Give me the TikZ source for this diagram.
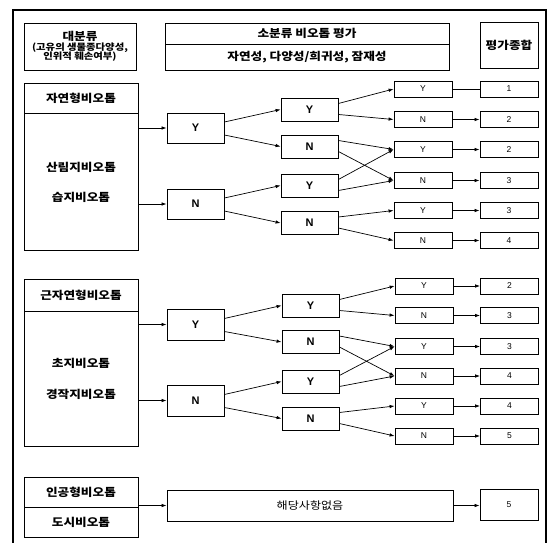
\documentclass[tikz,border=0pt]{standalone}
\usepackage{fontspec}
\setmainfont{Liberation Sans}
\newfontfamily\kr{Noto Sans CJK KR}[FakeStretch=1.15]
\usetikzlibrary{arrows.meta}
\begin{document}
\begin{tikzpicture}[x=1pt,y=-1pt,
  bx/.style={draw=black,line width=0.8pt,inner sep=0pt,fill=white},
  hd/.style={font=\kr\bfseries\fontsize{11}{12}\selectfont},
  bigt/.style={font=\kr\bfseries\fontsize{11}{12}\selectfont},
  yn/.style={bx,minimum width=57pt,font=\bfseries\fontsize{11}{12}\selectfont},
  sm/.style={bx,minimum width=58pt,minimum height=16pt,font=\fontsize{8.5}{9}\selectfont},
  arr/.style={line width=0.7pt,-{Latex[length=5pt,width=3.5pt]}},
  ln/.style={line width=0.7pt}]
\useasboundingbox (0,0) rectangle (549,543);
\draw[line width=1.3pt] (13,10) rectangle (546,560);
% header
\node[bx,minimum width=112pt,minimum height=47pt,align=center,hd] (h1) at (80,46.5)
  {대분류\\[-2pt]{\fontsize{9}{10}\selectfont (고유의 생물종다양성,}\\[-2.5pt]{\fontsize{9}{10}\selectfont 인위적 훼손여부)}};
\node[bx,minimum width=284pt,minimum height=21pt,hd] (h2a) at (307,33.5) {소분류 비오톱 평가};
\node[bx,minimum width=284pt,minimum height=26pt,hd] (h2b) at (307,57) {자연성, 다양성/희귀성, 잠재성};
\node[bx,minimum width=58pt,minimum height=46pt,hd] (h3) at (509,45) {평가종합};
% section 1
\node[bx,minimum width=114pt,minimum height=30pt,bigt] (a1) at (81,98) {자연형비오톱};
\node[bx,minimum width=114pt,minimum height=137pt] (a2) at (81,181.5) {};
\node[bigt] (a2t1) at (81,167) {산림지비오톱};
\node[bigt] (a2t2) at (81,197) {습지비오톱};
\node[yn,minimum height=30pt] (p1y) at (195.5,128) {Y};
\node[yn,minimum height=30pt] (p1n) at (195.5,204) {N};
\node[yn,minimum height=23pt] (p2a) at (309.5,109.5) {Y};
\node[yn,minimum height=23pt] (p2b) at (309.5,146.5) {N};
\node[yn,minimum height=23pt] (p2c) at (309.5,185.5) {Y};
\node[yn,minimum height=23pt] (p2d) at (309.5,223) {N};
\node[sm] (p3a) at (423,89) {Y};
\node[sm] (p3b) at (423,119.5) {N};
\node[sm] (p3c) at (423,149.5) {Y};
\node[sm] (p3d) at (423,180.5) {N};
\node[sm] (p3e) at (423,210.5) {Y};
\node[sm] (p3f) at (423,240.5) {N};
\node[sm] (pfa) at (509,89) {1};
\node[sm] (pfb) at (509,119.5) {2};
\node[sm] (pfc) at (509,149.5) {2};
\node[sm] (pfd) at (509,180.5) {3};
\node[sm] (pfe) at (509,210.5) {3};
\node[sm] (pff) at (509,240.5) {4};
\draw[arr] (p1y.west -| a2.east) -- (p1y.west);
\draw[arr] (p1n.west -| a2.east) -- (p1n.west);
\draw[arr] ([yshift=6pt]p1y.east) -- (p2a.west);
\draw[arr] ([yshift=-7pt]p1y.east) -- (p2b.west);
\draw[arr] ([yshift=6pt]p1n.east) -- (p2c.west);
\draw[arr] ([yshift=-7pt]p1n.east) -- (p2d.west);
\draw[arr] ([yshift=6pt]p2a.east) -- (p3a.west);
\draw[arr] ([yshift=-5pt]p2a.east) -- (p3b.west);
\draw[arr] ([yshift=6pt]p2b.east) -- (p3c.west);
\draw[arr] ([yshift=-5pt]p2b.east) -- (p3d.west);
\draw[arr] ([yshift=6pt]p2c.east) -- (p3c.west);
\draw[arr] ([yshift=-5pt]p2c.east) -- (p3d.west);
\draw[arr] ([yshift=6pt]p2d.east) -- (p3e.west);
\draw[arr] ([yshift=-5pt]p2d.east) -- (p3f.west);
\draw[ln] (p3a) -- (pfa);
\draw[arr] (p3b) -- (pfb);
\draw[arr] (p3c) -- (pfc);
\draw[arr] (p3d) -- (pfd);
\draw[arr] (p3e) -- (pfe);
\draw[arr] (p3f) -- (pff);
% section 2
\node[bx,minimum width=114pt,minimum height=32pt,bigt] (b1) at (81,295) {근자연형비오톱};
\node[bx,minimum width=114pt,minimum height=135pt] (b2) at (81,378.5) {};
\node[bigt] (b2t1) at (81,363) {초지비오톱};
\node[bigt] (b2t2) at (81,394) {경작지비오톱};
\node[yn,minimum height=31pt] (q1y) at (195.5,324.5) {Y};
\node[yn,minimum height=31pt] (q1n) at (195.5,400.5) {N};
\node[yn,minimum height=23pt] (q2a) at (310.5,305.5) {Y};
\node[yn,minimum height=23pt] (q2b) at (310.5,342) {N};
\node[yn,minimum height=23pt] (q2c) at (310.5,381.5) {Y};
\node[yn,minimum height=23pt] (q2d) at (310.5,418.5) {N};
\node[sm] (q3a) at (424,286) {Y};
\node[sm] (q3b) at (424,315.5) {N};
\node[sm] (q3c) at (424,346.5) {Y};
\node[sm] (q3d) at (424,376) {N};
\node[sm] (q3e) at (424,406) {Y};
\node[sm] (q3f) at (424,436) {N};
\node[sm] (qfa) at (509.5,286) {2};
\node[sm] (qfb) at (509.5,315.5) {3};
\node[sm] (qfc) at (509.5,346.5) {3};
\node[sm] (qfd) at (509.5,376) {4};
\node[sm] (qfe) at (509.5,406) {4};
\node[sm] (qff) at (509.5,436) {5};
\draw[arr] (q1y.west -| b2.east) -- (q1y.west);
\draw[arr] (q1n.west -| b2.east) -- (q1n.west);
\draw[arr] ([yshift=6pt]q1y.east) -- (q2a.west);
\draw[arr] ([yshift=-7pt]q1y.east) -- (q2b.west);
\draw[arr] ([yshift=6pt]q1n.east) -- (q2c.west);
\draw[arr] ([yshift=-7pt]q1n.east) -- (q2d.west);
\draw[arr] ([yshift=6pt]q2a.east) -- (q3a.west);
\draw[arr] ([yshift=-5pt]q2a.east) -- (q3b.west);
\draw[arr] ([yshift=6pt]q2b.east) -- (q3c.west);
\draw[arr] ([yshift=-5pt]q2b.east) -- (q3d.west);
\draw[arr] ([yshift=6pt]q2c.east) -- (q3c.west);
\draw[arr] ([yshift=-5pt]q2c.east) -- (q3d.west);
\draw[arr] ([yshift=6pt]q2d.east) -- (q3e.west);
\draw[arr] ([yshift=-5pt]q2d.east) -- (q3f.west);
\draw[arr] (q3a) -- (qfa);
\draw[arr] (q3b) -- (qfb);
\draw[arr] (q3c) -- (qfc);
\draw[arr] (q3d) -- (qfd);
\draw[arr] (q3e) -- (qfe);
\draw[arr] (q3f) -- (qff);
% section 3
\node[bx,minimum width=114pt,minimum height=30pt,bigt] (c1) at (81,492) {인공형비오톱};
\node[bx,minimum width=114pt,minimum height=30pt,bigt] (c2) at (81,522) {도시비오톱};
\node[bx,minimum width=286pt,minimum height=31pt,font=\kr\fontsize{10.5}{11}\selectfont] (d) at (310,505.5) {해당사항없음};
\node[bx,minimum width=58pt,minimum height=31pt,font=\fontsize{8.5}{9}\selectfont] (f5) at (509,504.5) {5};
\draw[arr] (d.west -| c1.east) -- (d.west);
\draw[arr] (d.east) -- (d.east -| f5.west);
\end{tikzpicture}
\end{document}
